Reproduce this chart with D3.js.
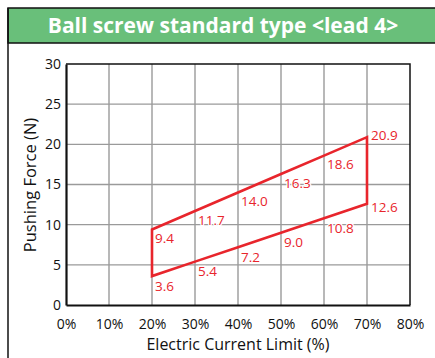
<!DOCTYPE html>
<html>
<head>
<meta charset="utf-8">
<script src="https://cdn.jsdelivr.net/npm/d3@7"></script>
<style>
  html, body { margin: 0; padding: 0; background: #fff; }
  svg { display: block; font-family: "Open Sans", "Noto Sans", sans-serif; }
</style>
</head>
<body>
<svg id="chart" width="435" height="358"></svg>
<script>
// Current limit settings (%) and pushing force (N)
const currentLimit = [20, 30, 40, 50, 60, 70];
const forceUpper = [9.4, 11.7, 14.0, 16.3, 18.6, 20.9];
const forceLower = [3.6, 5.4, 7.2, 9.0, 10.8, 12.6];
const xTicks = [0, 10, 20, 30, 40, 50, 60, 70, 80];
const yTicks = [0, 5, 10, 15, 20, 25, 30];
const title = "Ball screw standard type <lead 4>";
const xTitle = "Electric Current Limit (%)";
const yTitle = "Pushing Force (N)";

const red = "#e8252c";
const svg = d3.select("#chart");

// Panel frame and title banner
svg.append("rect").attr("x", 8).attr("y", 8).attr("width", 440).attr("height", 35)
  .attr("fill", "#69bf7a").attr("stroke", "#111").attr("stroke-width", 1.5);
svg.append("line").attr("x1", 8).attr("x2", 8).attr("y1", 8).attr("y2", 358)
  .attr("stroke", "#111").attr("stroke-width", 1.5);
svg.append("text").attr("x", 223).attr("y", 33).attr("text-anchor", "middle")
  .attr("fill", "#fff").attr("font-weight", "bold").attr("font-size", 21)
  .text(title);

const plot = { left: 66, right: 410, top: 64, bottom: 305 };
const x = d3.scaleLinear().domain([0, 80]).range([plot.left, plot.right]);
const y = d3.scaleLinear().domain([0, 30]).range([plot.bottom, plot.top]);

// Grid
const grid = svg.append("g").attr("stroke", "#9a9a9a").attr("stroke-width", 1.4);
grid.selectAll(".gx").data(xTicks.slice(1, -1)).join("line")
  .attr("x1", d => x(d)).attr("x2", d => x(d)).attr("y1", plot.top).attr("y2", plot.bottom);
grid.selectAll(".gy").data(yTicks.slice(1, -1)).join("line")
  .attr("x1", plot.left).attr("x2", plot.right).attr("y1", d => y(d)).attr("y2", d => y(d));

// Plot border: thin on top/right, heavier axes on left/bottom
svg.append("path")
  .attr("d", `M${plot.left},${plot.top}H${plot.right}V${plot.bottom}`)
  .attr("fill", "none").attr("stroke", "#111").attr("stroke-width", 1.5);

const xAxis = svg.append("g").attr("transform", `translate(0,${plot.bottom})`)
  .call(d3.axisBottom(x).tickValues(xTicks).tickSize(0).tickPadding(14).tickFormat(d => d + "%"));
const yAxis = svg.append("g").attr("transform", `translate(${plot.left},0)`)
  .call(d3.axisLeft(y).tickValues(yTicks).tickSize(0).tickPadding(5));
[xAxis, yAxis].forEach(a => {
  a.select(".domain").attr("stroke", "#111").attr("stroke-width", 2.2);
  a.selectAll("text").attr("fill", "#111").attr("font-size", 14)
    .attr("font-family", "\"Open Sans\", \"Noto Sans\", sans-serif");
});
yAxis.selectAll("text").attr("dy", "0.32em");

svg.append("text").attr("x", 238).attr("y", 350).attr("text-anchor", "middle")
  .attr("font-size", 16).attr("fill", "#111").text(xTitle);
svg.append("text").attr("transform", "translate(36,185) rotate(-90)")
  .attr("text-anchor", "middle").attr("font-size", 16.5).attr("fill", "#111").text(yTitle);

// Operating envelope: upper line, right edge, lower line back, left edge
const upper = currentLimit.map((c, i) => [c, forceUpper[i]]);
const lower = currentLimit.map((c, i) => [c, forceLower[i]]).reverse();
const line = d3.line().x(d => x(d[0])).y(d => y(d[1]));
svg.append("path").datum(upper.concat(lower))
  .attr("d", d => line(d) + "Z")
  .attr("fill", "none").attr("stroke", red).attr("stroke-width", 2.6)
  .attr("stroke-linejoin", "miter");

// Value labels
const labels = [];
currentLimit.forEach((c, i) => {
  const last = i === currentLimit.length - 1;
  labels.push({ c, v: forceUpper[i], dx: last ? 4 : 3, dy: last ? 3 : 13.5 });
  labels.push({ c, v: forceLower[i], dx: last ? 4 : 3, dy: last ? 8 : 14.5 });
});
svg.append("g").selectAll("text").data(labels).join("text")
  .attr("x", d => x(d.c) + d.dx).attr("y", d => y(d.v) + d.dy)
  .attr("fill", red).attr("font-size", 13.5)
  .attr("stroke", "#fff").attr("stroke-width", 2.5).attr("paint-order", "stroke")
  .text(d => d.v.toFixed(1));
</script>
</body>
</html>
